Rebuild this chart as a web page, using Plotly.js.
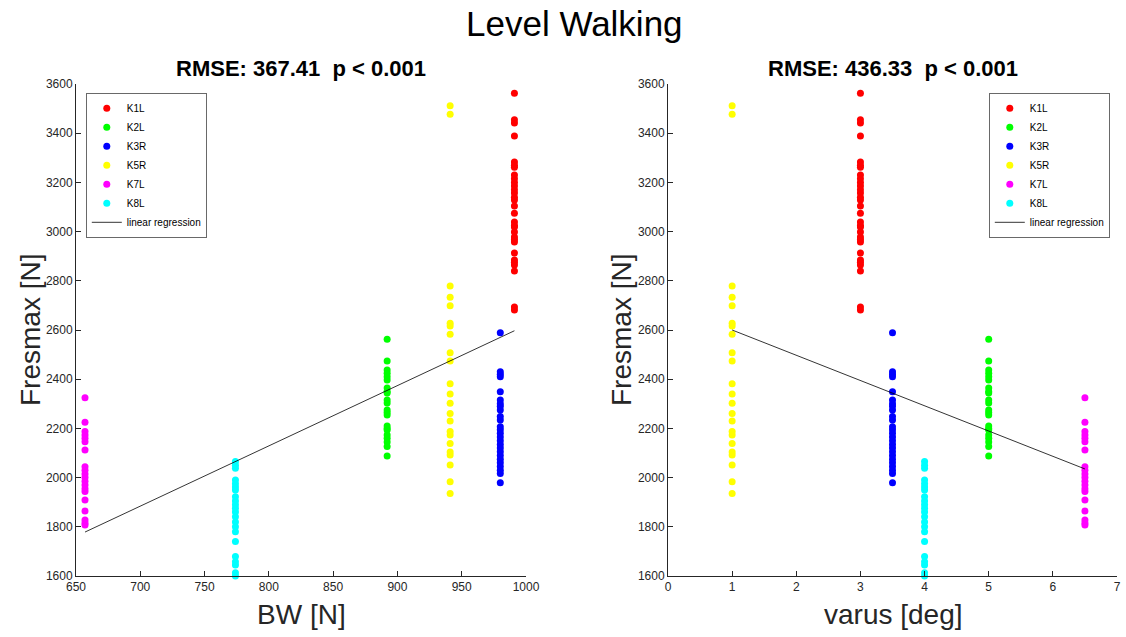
<!DOCTYPE html>
<html>
<head>
<meta charset="utf-8">
<script src="https://cdn.plot.ly/plotly-3.0.1.min.js"></script>
<style>html,body{margin:0;padding:0;background:#fff;}#chart{width:1126px;height:637px;}</style>
</head>
<body>
<div id="chart"></div>
<script>
// ---- data ----
const subjects = ["K1L", "K2L", "K3R", "K5R", "K7L", "K8L"];
const colors = ["#ff0000", "#00ff00", "#0000ff", "#ffff00", "#ff00ff", "#00ffff"];
const bodyWeight = [991, 892, 980, 941, 657, 774];   // BW [N]
const varus = [3, 5, 3.5, 1, 6.5, 4];                 // varus [deg]

const fK1L = [3562, 3455, 3441, 3389, 3283, 3270, 3262, 3230, 3215, 3200, 3185, 3170, 3157, 3140, 3128, 3104, 3075, 3039, 3025, 3019, 2998, 2978, 2968, 2958, 2913, 2885, 2875, 2864, 2840, 2694, 2681];
const fK2L = [2562, 2474, 2437, 2424, 2410, 2397, 2364, 2350, 2344, 2315, 2303, 2275, 2265, 2254, 2210, 2200, 2193, 2173, 2160, 2145, 2126, 2088];
const fK3R = [2589, 2430, 2420, 2410, 2349, 2315, 2300, 2290, 2275, 2248, 2234, 2207, 2195, 2180, 2165, 2150, 2135, 2120, 2105, 2090, 2075, 2060, 2045, 2030, 2017, 1979];
const fK5R = [3512, 3477, 2779, 2733, 2699, 2627, 2616, 2583, 2508, 2474, 2382, 2340, 2302, 2261, 2230, 2187, 2173, 2139, 2104, 2092, 2051, 1983, 1935];
const fK7L = [2325, 2225, 2187, 2173, 2160, 2146, 2112, 2044, 2030, 2015, 2000, 1985, 1970, 1955, 1943, 1909, 1864, 1828, 1815, 1807];
const fK8L = [2065, 2050, 2038, 1990, 1975, 1962, 1950, 1922, 1905, 1890, 1875, 1860, 1841, 1820, 1800, 1780, 1740, 1679, 1658, 1645, 1613, 1600];
const fresmax = [fK1L, fK2L, fK3R, fK5R, fK7L, fK8L];

// regression coefficients [intercept, slope]
const regBW = [169, 2.45];
const regVarus = [2702.7, -102.7];

const mainTitle = "Level Walking";
const leftTitle = "RMSE: 367.41  p < 0.001";
const rightTitle = "RMSE: 436.33  p < 0.001";

// ---- helpers ----
const W = 1126, H = 637;
const px = x => x / W;
const py = y => 1 - y / H;
const ink = "#262626";
const FONT = "Liberation Sans, Arial, sans-serif";

const traces = [];
function addPanel(xVals, coef, xa, ya, legendName) {
  subjects.forEach((s, i) => {
    const ys = fresmax[i];
    const xs = ys.map(() => xVals[i]);
    traces.push({
      type: "scatter", mode: "markers", name: s, x: xs, y: ys,
      xaxis: xa, yaxis: ya, legend: legendName,
      marker: { color: colors[i], size: 7 },
      cliponaxis: false, hoverinfo: "x+y"
    });
  });
  const [a, b] = coef;
  const x0 = Math.min(...xVals), x1 = Math.max(...xVals);
  traces.push({
    type: "scatter", mode: "lines", name: "linear regression",
    x: [x0, x1], y: [a + b * x0, a + b * x1],
    xaxis: xa, yaxis: ya, legend: legendName,
    line: { color: "#000000", width: 0.8 }
  });
}
addPanel(bodyWeight, regBW, "x", "y", "legend");
addPanel(varus, regVarus, "x2", "y2", "legend2");

const axisBase = {
  showline: true, linecolor: ink, linewidth: 1, mirror: false,
  ticks: "inside", ticklen: 5, tickcolor: ink, tickwidth: 1,
  showgrid: false, zeroline: false, automargin: false,
  tickfont: { family: FONT, size: 12, color: ink }
};
const legendBase = {
  xanchor: "left", yanchor: "top", bgcolor: "#ffffff",
  bordercolor: "#444444", borderwidth: 0.8,
  font: { family: FONT, size: 10, color: "#000" },
  tracegroupgap: 0, itemwidth: 30
};

const annot = (text, x, y, size, opts = {}) => Object.assign({
  text, xref: "paper", yref: "paper", x: px(x), y: py(y),
  xanchor: "center", yanchor: "middle", showarrow: false,
  font: { family: FONT, size, color: opts.color || "#000" }
}, opts.extra || {});

const layout = {
  width: W, height: H,
  margin: { l: 0, r: 0, t: 0, b: 0 },
  paper_bgcolor: "#ffffff", plot_bgcolor: "#ffffff",
  showlegend: true,
  xaxis: Object.assign({}, axisBase, { domain: [px(76), px(526)], range: [650, 1000], dtick: 50, tick0: 650, anchor: "y" }),
  yaxis: Object.assign({}, axisBase, { domain: [py(576), py(84)], range: [1600, 3600], dtick: 200, anchor: "x" }),
  xaxis2: Object.assign({}, axisBase, { domain: [px(668), px(1117)], range: [0, 7], dtick: 1, anchor: "y2" }),
  yaxis2: Object.assign({}, axisBase, { domain: [py(576), py(84)], range: [1600, 3600], dtick: 200, anchor: "x2" }),
  legend: Object.assign({}, legendBase, { x: px(86), y: py(93) }),
  legend2: Object.assign({}, legendBase, { x: px(1110), y: py(93), xanchor: "right" }),
  annotations: [
    annot(mainTitle, 574, 23, 35),
    annot("<b>" + leftTitle + "</b>", 301, 68, 22),
    annot("<b>" + rightTitle + "</b>", 893, 68, 22),
    annot("BW [N]", 301, 614, 28, { color: ink }),
    annot("varus [deg]", 893, 614, 28, { color: ink }),
    annot("Fresmax [N]", 31, 330, 28, { color: ink, extra: { textangle: -90 } }),
    annot("Fresmax [N]", 622, 330, 28, { color: ink, extra: { textangle: -90 } })
  ]
};

Plotly.newPlot("chart", traces, layout, { staticPlot: true, displayModeBar: false });
</script>
</body>
</html>
